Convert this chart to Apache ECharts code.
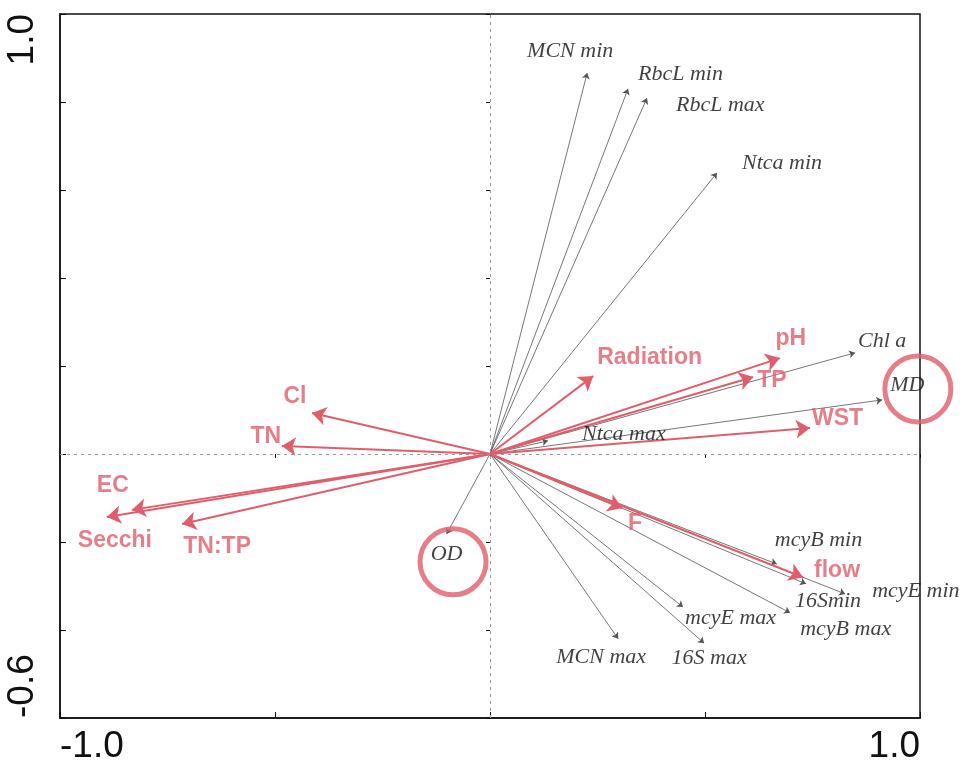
<!DOCTYPE html>
<html>
<head>
<meta charset="utf-8">
<script src="https://cdn.jsdelivr.net/npm/echarts@6/dist/echarts.min.js"></script>
<style>html,body{margin:0;padding:0;background:#fff;}#chart{width:960px;height:767px;}</style>
</head>
<body>
<div id="chart"></div>
<script>
// ---- data ----
const speciesNames = ['MCN min','RbcL min','RbcL max','Ntca min','Chl a','MD','Ntca max','OD','mcyB min','16Smin','mcyE min','mcyB max','mcyE max','16S max','MCN max'];
const speciesX = [0.226, 0.321, 0.365, 0.528, 0.849, 0.912, 0.135, -0.101, 0.667, 0.735, 0.826, 0.698, 0.449, 0.498, 0.298];
const speciesY = [0.866, 0.830, 0.809, 0.639, 0.230, 0.123, 0.030, -0.182, -0.250, -0.295, -0.318, -0.361, -0.348, -0.430, -0.420];

const envNames = ['Radiation','pH','TP','WST','Cl','TN','EC','Secchi','TN:TP','F','flow'];
const envX = [0.240, 0.674, 0.612, 0.744, -0.414, -0.484, -0.833, -0.891, -0.716, 0.307, 0.728];
const envY = [0.177, 0.218, 0.175, 0.059, 0.093, 0.018, -0.127, -0.143, -0.159, -0.123, -0.280];

const circleNames = ['MD','OD'];
const circleX = [0.995, -0.086];
const circleY = [0.148, -0.245];

const xTickLabels = {'-1': '-1.0', '1': '1.0'};
const yTickLabels = {'-0.6': '-0.6', '1': '1.0'};

// ---- label styling (offsets in px, alignment) ----
const speciesLabelStyle = [[-17,-22,'center'],[10,-15,'left'],[29,7,'left'],[25,-10,'left'],[3,-12,'left'],[8,-15,'left'],[34,-7,'left'],[0,20,'center'],[-2,-24,'left'],[-11,17,'left'],[27,-3,'left'],[10,16,'left'],[2,11,'left'],[5,15,'center'],[-17,18,'center']];
const envLabelStyle = [[4,-18,'left'],[11,-19,'center'],[4,4,'left'],[2,-9,'left'],[-17,-16,'center'],[-16,-9,'center'],[-19,-24,'center'],[8,24,'center'],[35,23,'center'],[13,16,'center'],[11,-7,'left']];

const RED = '#e05e6c';
const chart = echarts.init(document.getElementById('chart'));

function fmt(map){ return function(v){ const k = String(Math.round(v*10)/10); return map[k] !== undefined ? map[k] : ''; }; }

const option = {
  animation: false,
  backgroundColor: '#fff',
  grid: {left: 60, right: 40, top: 14, bottom: 49, show: true, borderColor: '#111', borderWidth: 1.5},
  xAxis: [{
    type: 'value', min: -1, max: 1, interval: 0.5,
    axisLine: {show: true, onZero: false, lineStyle: {color: '#111', width: 1.5}},
    axisTick: {show: true, inside: true, length: 6, lineStyle: {color: '#111'}},
    splitLine: {show: false},
    axisLabel: {formatter: fmt(xTickLabels), fontSize: 37, fontFamily: 'Liberation Sans', color: '#111', margin: 10,
      showMinLabel: true, showMaxLabel: true, alignMinLabel: 'left', alignMaxLabel: 'right'}
  },{
    type: 'value', min: -1, max: 1, interval: 0.5, position: 'bottom',
    axisLine: {show: false}, axisTick: {show: true, length: 4, lineStyle: {color: '#111'}},
    axisLabel: {show: false}, splitLine: {show: false}
  }],
  yAxis: [{
    type: 'value', min: -0.6, max: 1, interval: 0.2,
    axisLine: {show: true, onZero: false, lineStyle: {color: '#111', width: 1.5}},
    axisTick: {show: true, inside: true, length: 6, lineStyle: {color: '#111'}},
    splitLine: {show: false},
    axisLabel: {formatter: fmt(yTickLabels), fontSize: 37, fontFamily: 'Liberation Sans', color: '#111', margin: 19, rotate: 90,
      showMinLabel: true, showMaxLabel: true, alignMinLabel: 'left', alignMaxLabel: 'right'}
  },{
    type: 'value', min: -0.6, max: 1, interval: 0.2, position: 'left',
    axisLine: {show: false}, axisTick: {show: true, length: 4, lineStyle: {color: '#111'}},
    axisLabel: {show: false}, splitLine: {show: false}
  }],
  series: [
    {
      type: 'lines', coordinateSystem: 'cartesian2d', silent: true, z: 2,
      symbol: ['none', 'arrow'], symbolSize: 6,
      lineStyle: {color: '#555', width: 0.8, opacity: 1},
      data: speciesNames.map((n, i) => ({name: n, coords: [[0, 0], [speciesX[i], speciesY[i]]]})),
      markLine: {silent: true, symbol: 'none', label: {show: false},
        lineStyle: {type: [3, 4], color: '#9a9a9a', width: 1},
        data: [{xAxis: 0}, {yAxis: 0}]}
    },
    {
      type: 'lines', coordinateSystem: 'cartesian2d', silent: true, z: 3,
      symbol: ['none', 'arrow'], symbolSize: 14,
      lineStyle: {color: RED, width: 2, opacity: 1},
      itemStyle: {color: RED},
      data: envNames.map((n, i) => ({name: n, coords: [[0, 0], [envX[i], envY[i]]]}))
    },
    {
      type: 'scatter', silent: true, z: 5, symbolSize: 0, clip: false,
      data: speciesNames.map((n, i) => ({name: n, value: [speciesX[i], speciesY[i]],
        label: {offset: [speciesLabelStyle[i][0], speciesLabelStyle[i][1]], align: speciesLabelStyle[i][2]}})),
      label: {show: true, position: 'inside', formatter: '{b}', verticalAlign: 'middle',
        fontFamily: 'Liberation Serif', fontStyle: 'italic', fontSize: 22, color: '#111'}
    },
    {
      type: 'scatter', silent: true, z: 6, symbolSize: 0, clip: false,
      data: envNames.map((n, i) => ({name: n, value: [envX[i], envY[i]],
        label: {offset: [envLabelStyle[i][0], envLabelStyle[i][1]], align: envLabelStyle[i][2]}})),
      label: {show: true, position: 'inside', formatter: '{b}', verticalAlign: 'middle',
        fontFamily: 'Liberation Sans', fontWeight: 'bold', fontSize: 23, color: RED}
    },
    {
      type: 'scatter', silent: true, z: 7, clip: false, symbol: 'circle', symbolSize: 66,
      itemStyle: {color: 'rgba(0,0,0,0)', borderColor: RED, borderWidth: 5},
      data: circleNames.map((n, i) => ({name: n, value: [circleX[i], circleY[i]]}))
    }
  ]
};
chart.setOption(option);
</script>
</body>
</html>
